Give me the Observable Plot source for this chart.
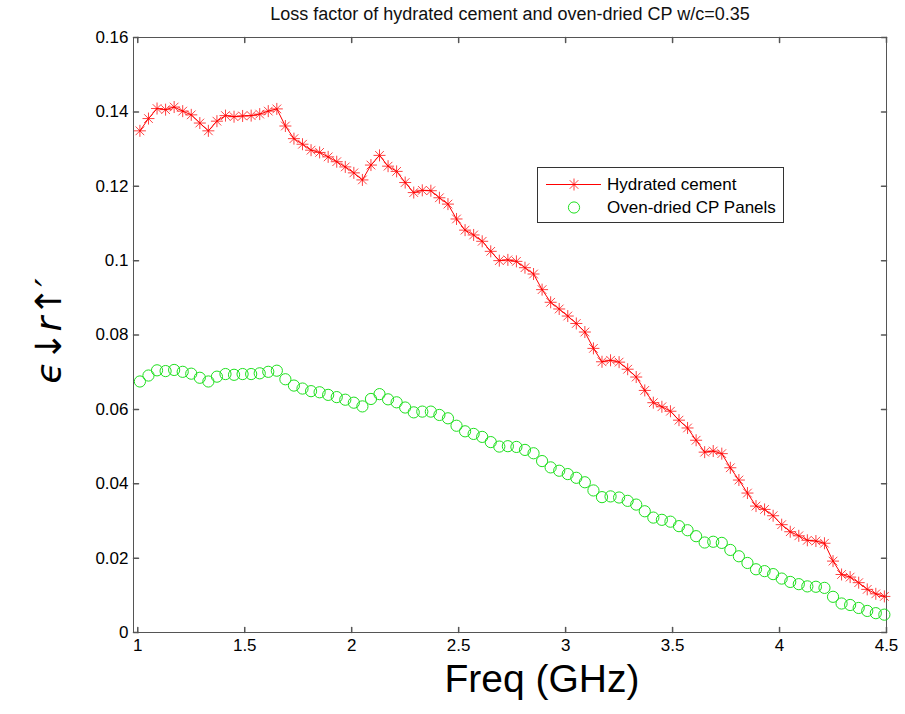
<!DOCTYPE html>
<html>
<head>
<meta charset="utf-8">
<script src="https://cdn.jsdelivr.net/npm/d3@7"></script>
<script src="https://cdn.jsdelivr.net/npm/@observablehq/plot@0.6"></script>
<style>
  html, body { margin: 0; padding: 0; background: #fff; }
  #wrap { position: relative; width: 905px; height: 714px; font-family: "Liberation Sans", Arial, sans-serif; }
  #legend { position: absolute; left: 537px; top: 167px; width: 245px; height: 54px; border: 1px solid #333; background: #fff; }
</style>
</head>
<body>
<div id="wrap"></div>
<script>
const titleText = "Loss factor of hydrated cement and oven-dried CP w/c=0.35";
const xLabel = "Freq (GHz)";
const yLabel = "ϵ↓r↑′";
const seriesNames = ["Hydrated cement", "Oven-dried CP Panels"];

const xTicks = [1, 1.5, 2, 2.5, 3, 3.5, 4, 4.5];
const yTicks = [0, 0.02, 0.04, 0.06, 0.08, 0.1, 0.12, 0.14, 0.16];
const xDomain = [0.98, 4.5];
const yDomain = [0, 0.16];

const freq = [
  1.01,1.05,1.09,1.13,1.17,1.21,1.25,1.29,1.33,1.37,
  1.41,1.45,1.49,1.53,1.57,1.61,1.65,1.69,1.73,1.77,
  1.81,1.85,1.89,1.93,1.97,2.01,2.05,2.09,2.13,2.17,
  2.21,2.25,2.29,2.33,2.37,2.41,2.45,2.49,2.53,2.57,
  2.61,2.65,2.69,2.73,2.77,2.81,2.85,2.89,2.93,2.97,
  3.01,3.05,3.09,3.13,3.17,3.21,3.25,3.29,3.33,3.37,
  3.41,3.45,3.49,3.53,3.57,3.61,3.65,3.69,3.73,3.77,
  3.81,3.85,3.89,3.93,3.97,4.01,4.05,4.09,4.13,4.17,
  4.21,4.25,4.29,4.33,4.37,4.41,4.45,4.49
];

const hydrated = [
  0.1349,0.1382,0.1409,0.1406,0.1413,0.1402,0.1392,0.1370,0.1349,0.1375,
  0.1390,0.1387,0.1389,0.1390,0.1394,0.1402,0.1408,0.1362,0.1328,0.1313,
  0.1297,0.1291,0.1279,0.1266,0.1252,0.1236,0.1217,0.1257,0.1283,0.1254,
  0.1240,0.1210,0.1183,0.1189,0.1188,0.1169,0.1152,0.1112,0.1082,0.1069,
  0.1052,0.1025,0.1000,0.1002,0.0998,0.0981,0.0964,0.0922,0.0888,0.0870,
  0.0851,0.0831,0.0808,0.0764,0.0728,0.0732,0.0727,0.0708,0.0687,0.0651,
  0.0618,0.0607,0.0595,0.0571,0.0550,0.0517,0.0485,0.0488,0.0481,0.0443,
  0.0410,0.0375,0.0340,0.0331,0.0314,0.0290,0.0271,0.0260,0.0248,0.0246,
  0.0240,0.0192,0.0156,0.0149,0.0134,0.0116,0.0104,0.0097
];

const ovenDried = [
  0.0675,0.0691,0.0705,0.0703,0.0706,0.0701,0.0696,0.0685,0.0675,0.0688,
  0.0695,0.0693,0.0695,0.0695,0.0697,0.0701,0.0704,0.0681,0.0664,0.0656,
  0.0649,0.0646,0.0639,0.0633,0.0626,0.0618,0.0608,0.0628,0.0641,0.0627,
  0.0619,0.0605,0.0592,0.0594,0.0594,0.0585,0.0576,0.0556,0.0541,0.0534,
  0.0526,0.0512,0.0500,0.0501,0.0499,0.0491,0.0482,0.0461,0.0444,0.0435,
  0.0426,0.0416,0.0404,0.0382,0.0364,0.0366,0.0363,0.0354,0.0344,0.0326,
  0.0309,0.0303,0.0298,0.0286,0.0275,0.0259,0.0242,0.0244,0.0241,0.0222,
  0.0205,0.0187,0.0170,0.0165,0.0157,0.0145,0.0136,0.0130,0.0124,0.0123,
  0.0120,0.0096,0.0078,0.0074,0.0066,0.0058,0.0052,0.0048
];

const redColor = "#ff0000";
const greenColor = "#1ee01e";
const axisColor = "#555";

const hydratedData = freq.map((f, i) => ({f, v: hydrated[i]}));
const ovenData = freq.map((f, i) => ({f, v: ovenDried[i]}));

// MATLAB-like 8-armed asterisk
const asterisk = {
  draw(context, size) {
    const r = Math.sqrt(size / Math.PI);
    const d = r * 0.72;
    context.moveTo(-r, 0); context.lineTo(r, 0);
    context.moveTo(0, -r); context.lineTo(0, r);
    context.moveTo(-d, -d); context.lineTo(d, d);
    context.moveTo(-d, d); context.lineTo(d, -d);
  }
};
const tickShape = {
  draw(context, l) { context.moveTo(0, 0); context.lineTo(0, -l); }
};

const chart = Plot.plot({
  width: 905,
  height: 714,
  marginLeft: 133,
  marginRight: 19,
  marginTop: 37,
  marginBottom: 82,
  style: {fontFamily: '"Liberation Sans", Arial, sans-serif', background: "#fff"},
  x: {domain: xDomain},
  y: {domain: yDomain},
  marks: [
    Plot.frame({stroke: axisColor}),
    // inward ticks on all four sides
    Plot.vector(xTicks, {x: d => d, y: yDomain[0], length: 5, rotate: 0, anchor: "start", shape: tickShape, stroke: axisColor}),
    Plot.vector(xTicks, {x: d => d, y: yDomain[1], length: 5, rotate: 180, anchor: "start", shape: tickShape, stroke: axisColor}),
    Plot.vector(yTicks, {y: d => d, x: xDomain[0], length: 5, rotate: 90, anchor: "start", shape: tickShape, stroke: axisColor}),
    Plot.vector(yTicks, {y: d => d, x: xDomain[1], length: 5, rotate: -90, anchor: "start", shape: tickShape, stroke: axisColor}),
    Plot.axisX(xTicks, {tickSize: 0, tickPadding: 6, fontSize: 17, tickFormat: d => String(d), label: null}),
    Plot.axisY(yTicks, {tickSize: 0, tickPadding: 5, fontSize: 17, tickFormat: d => String(d), label: null}),
    Plot.line(hydratedData, {x: "f", y: "v", stroke: redColor, strokeWidth: 1}),
    Plot.dot(hydratedData, {x: "f", y: "v", r: 6, symbol: asterisk, stroke: redColor, strokeWidth: 1, strokeOpacity: 0.75}),
    Plot.dot(ovenData, {x: "f", y: "v", r: 5.6, symbol: "circle", stroke: greenColor, strokeWidth: 1, fill: "none"}),
    Plot.text([titleText], {frameAnchor: "top", lineAnchor: "middle", dy: -23, fontSize: 18, fill: "#111"}),
    Plot.text([xLabel], {frameAnchor: "bottom", lineAnchor: "middle", textAnchor: "middle", dx: 32, dy: 47, fontSize: 39, fill: "#000"}),
    Plot.text([yLabel], {frameAnchor: "left", textAnchor: "middle", lineAnchor: "middle", dx: -84, dy: -4, rotate: -90, fontSize: 36, fontStyle: "italic", fontFamily: '"DejaVu Sans", sans-serif', fill: "#000"})
  ]
});

const wrap = document.getElementById("wrap");
wrap.appendChild(chart);

// Legend box (MATLAB style)
const legend = document.createElement("div");
legend.id = "legend";
const ns = "http://www.w3.org/2000/svg";
const lsvg = document.createElementNS(ns, "svg");
lsvg.setAttribute("width", "245");
lsvg.setAttribute("height", "54");
lsvg.style.display = "block";
function el(tag, attrs) {
  const e = document.createElementNS(ns, tag);
  for (const k in attrs) e.setAttribute(k, attrs[k]);
  lsvg.appendChild(e);
  return e;
}
el("line", {x1: 8, x2: 63, y1: 16.5, y2: 16.5, stroke: redColor, "stroke-width": 1});
const ap = d3.path(); asterisk.draw(ap, Math.PI * 36);
el("path", {d: ap.toString(), transform: "translate(36,16.5)", stroke: redColor, fill: "none", "stroke-opacity": 0.75});
el("circle", {cx: 36, cy: 39.5, r: 5.6, stroke: greenColor, fill: "none"});
const t1 = el("text", {x: 69, y: 16.5, "dominant-baseline": "central", "font-size": 17, fill: "#000"});
t1.textContent = seriesNames[0];
const t2 = el("text", {x: 69, y: 39.5, "dominant-baseline": "central", "font-size": 17, fill: "#000"});
t2.textContent = seriesNames[1];
legend.appendChild(lsvg);
wrap.appendChild(legend);
</script>
</body>
</html>
